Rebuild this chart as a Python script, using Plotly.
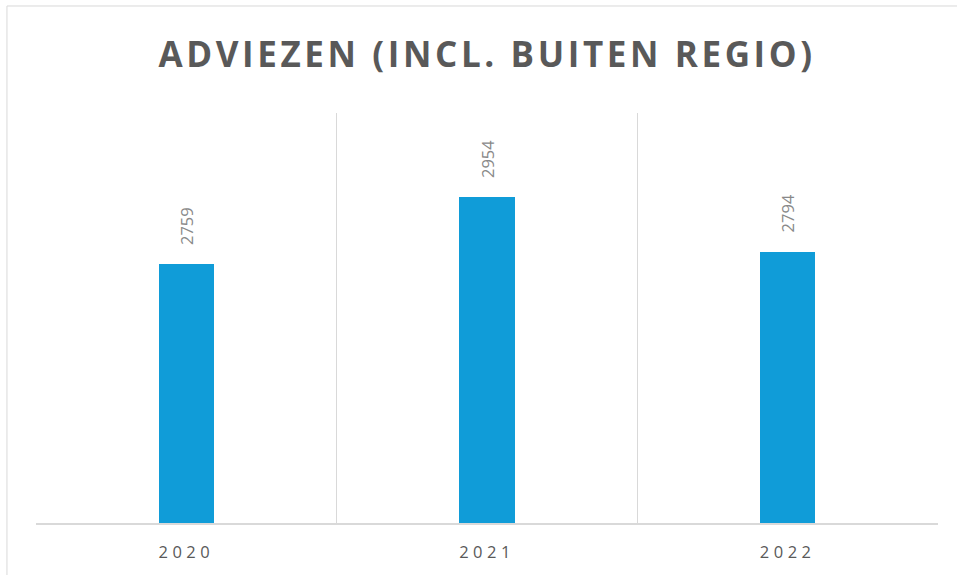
import plotly.graph_objects as go

years = ["2020", "2021", "2022"]
adviezen = [2759, 2954, 2794]
title_text = "ADVIEZEN (INCL. BUITEN REGIO)"

BAR = "#109CD8"
GRID = "#d9d9d9"

fig = go.Figure()
fig.add_trace(go.Bar(
    x=years, y=adviezen, marker=dict(color=BAR, line=dict(width=0)),
    width=0.183, hoverinfo="skip", showlegend=False,
))

for i, v in enumerate(adviezen):
    fig.add_annotation(
        x=i, y=v, text=str(v), textangle=-90, showarrow=False,
        xanchor="center", yanchor="bottom", yshift=17,
        font=dict(family="Open Sans", size=16.5, color="#898989"),
    )

fig.add_shape(type="rect", xref="paper", yref="paper",
              x0=-0.0322, x1=1.2, y0=-0.3, y1=1.261,
              line=dict(color=GRID, width=1), fillcolor="rgba(0,0,0,0)", layer="below")

fig.update_layout(
    width=957, height=575,
    margin=dict(l=36, r=19, t=113, b=52),
    paper_bgcolor="white", plot_bgcolor="white",
    title=dict(text=title_text, x=0.509, xanchor="center", y=0.904, yanchor="middle",
               font=dict(family="Open Sans", size=35, color="#595959", weight="bold")),
    xaxis=dict(type="category", tickson="boundaries", showgrid=True, gridcolor=GRID, gridwidth=1,
               showline=True, linecolor=GRID, linewidth=2, ticks="", zeroline=False,
               tickfont=dict(family="Open Sans", size=16.5, color="#595959"),
               ticklabelstandoff=13, range=[-0.5, 2.5]),
    yaxis=dict(range=[2000, 3200], visible=False, showgrid=False),
    bargap=0,
)

post = """
document.body.style.margin = '0';
document.body.style.padding = '0';
var gd = document.getElementsByClassName('plotly-graph-div')[0];
function sp(){
  gd.querySelectorAll('.gtitle').forEach(function(e){ e.style.letterSpacing = '3.6px'; });
  gd.querySelectorAll('.xtick text').forEach(function(e){ e.style.letterSpacing = '4.5px'; });
}
sp();
"""
fig.write_html("out.html", post_script=post, config={"displayModeBar": False})
